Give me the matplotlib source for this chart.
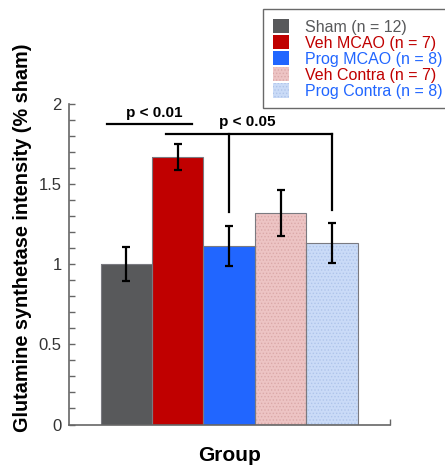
import numpy as np
import matplotlib
matplotlib.use('Agg')
import matplotlib.pyplot as plt

plt.rcParams['font.family'] = ['Liberation Sans', 'DejaVu Sans']
plt.rcParams['hatch.linewidth'] = 0.6

# data
groups = ['Sham (n = 12)', 'Veh MCAO (n = 7)', 'Prog MCAO (n = 8)',
          'Veh Contra (n = 7)', 'Prog Contra (n = 8)']
means = [1.00, 1.67, 1.115, 1.32, 1.13]
errs = [0.105, 0.08, 0.125, 0.145, 0.125]
colors = ['#58595b', '#c00000', '#2166ff', '#edc4c4', '#cadbf7']
hatch_colors = [None, None, None, '#dba9a9', '#afc4ea']
text_colors = ['#58595b', '#c00000', '#2166ff', '#c00000', '#2166ff']

fig = plt.figure(figsize=(4.45, 4.68), dpi=100)
ax = fig.add_axes([0.1544, 0.0929, 0.7220, 0.6849])

x = np.arange(len(groups))
bars = ax.bar(x, means, width=1.0, color=colors, linewidth=0, zorder=2)
for b, hc in zip(bars, hatch_colors):
    if hc:
        b.set_hatch('.....')
        b.set_edgecolor(hc)
# thin outlines drawn on top
ax.bar(x, means, width=1.0, fill=False, edgecolor='#7a7a80', linewidth=0.8,
       zorder=2.5)
ax.errorbar(x, means, yerr=errs, fmt='none', ecolor='black', elinewidth=1.6,
            capsize=3, capthick=1.6, zorder=3)

# significance brackets
ax.plot([-0.377, 1.283], [1.873, 1.873], color='black', lw=1.6, clip_on=False)
ax.text(0.55, 1.90, 'p < 0.01', ha='center', va='bottom', fontsize=11,
        fontweight='bold')
ax.plot([0.777, 3.995], [1.811, 1.811], color='black', lw=1.6, clip_on=False)
ax.plot([2.0, 2.0], [1.811, 1.328], color='black', lw=1.6)
ax.plot([3.995, 3.995], [1.811, 1.339], color='black', lw=1.6)
ax.text(2.36, 1.843, 'p < 0.05', ha='center', va='bottom', fontsize=11,
        fontweight='bold')

ax.set_xlim(-1.12, 5.13)
ax.set_ylim(0, 2)
ax.set_yticks([0, 0.5, 1, 1.5, 2])
ax.set_yticklabels(['0', '0.5', '1', '1.5', '2'])
ax.set_yticks(np.arange(0, 2.01, 0.1), minor=True)
ax.tick_params(axis='y', which='both', direction='in', length=4, width=1,
               color='#666666', labelsize=12, labelcolor='#333333', pad=5)
ax.set_xticks([5.13])
ax.set_xticklabels([''])
ax.tick_params(axis='x', direction='in', length=4, width=1, color='#666666')
for s in ['top', 'right']:
    ax.spines[s].set_visible(False)
for s in ['left', 'bottom']:
    ax.spines[s].set_color('#666666')
    ax.spines[s].set_linewidth(1.2)

ax.set_xlabel('Group', fontsize=15, fontweight='bold', labelpad=12)
ax.set_ylabel('Glutamine synthetase intensity (% sham)', fontsize=14.3,
              fontweight='bold')
ax.yaxis.set_label_coords(-0.114, 0.583)

leg = fig.legend(bars, groups, loc='upper left',
                 bbox_to_anchor=(263.3 / 445, 1 - 9.3 / 468),
                 fontsize=11.5, frameon=True, fancybox=False,
                 edgecolor='#444444', handlelength=1.0, handleheight=1.0,
                 handletextpad=0.99, labelspacing=0.03, borderpad=0.6,
                 borderaxespad=0)
leg.get_frame().set_linewidth(1.0)
for t, c in zip(leg.get_texts(), text_colors):
    t.set_color(c)

fig.savefig('out.png', dpi=100)
